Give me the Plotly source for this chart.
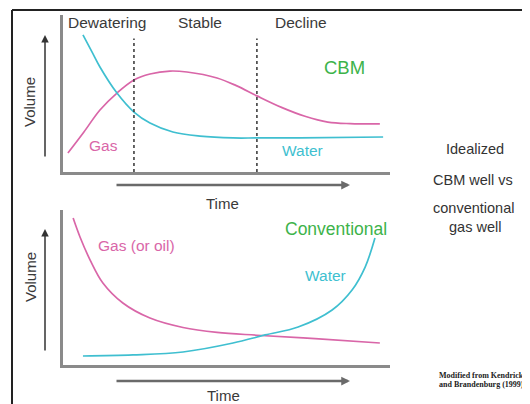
import plotly.graph_objects as go

# ---------------- data ----------------
# CBM well (top panel) - time (0-10) vs relative volume (0-10)
cbm_gas_t = [0.15, 0.64, 1.13, 1.65, 2.17, 2.66, 3.27, 3.79, 4.71, 5.30, 5.93, 6.70, 7.40, 8.10, 8.78, 9.69]
cbm_gas_v = [1.21, 2.55, 3.95, 5.03, 5.86, 6.24, 6.43, 6.37, 5.99, 5.50, 4.85, 4.10, 3.55, 3.18, 3.08, 3.06]
cbm_water_t = [0.61, 0.89, 1.13, 1.65, 2.17, 2.66, 3.36, 4.19, 5.20, 5.93, 7.25, 9.79]
cbm_water_v = [8.73, 7.64, 6.69, 5.03, 3.82, 3.12, 2.55, 2.29, 2.17, 2.17, 2.17, 2.23]
phase_bounds = [2.17, 5.93]
phase_top = 8.5
phase_names = ["Dewatering", "Stable", "Decline"]

# Conventional well (bottom panel)
conv_gas_t = [0.31, 0.52, 0.83, 1.22, 1.83, 2.66, 3.67, 4.71, 5.93, 7.71, 9.69]
conv_gas_v = [9.48, 8.26, 6.77, 5.29, 4.00, 3.03, 2.42, 2.10, 1.92, 1.70, 1.42]
conv_water_t = [0.61, 2.14, 3.67, 5.20, 6.18, 7.19, 8.23, 8.84, 9.24, 9.54]
conv_water_v = [0.58, 0.65, 0.84, 1.42, 1.94, 2.45, 3.55, 4.84, 6.32, 8.19]

# page has an 8px body margin; the figure fills the rest of the 530x404 window
OFF = 8
W, H = 530 - OFF, 404 - OFF
PINK = "#d966a8"
CYAN = "#3fbfd0"
GREEN = "#3db34a"
AXIS = "#8a8a8a"
TXT = "#3a3a3a"
FONT = "Liberation Sans, Arial, sans-serif"


def px(x):
    return (x - OFF) / W


def py(y):
    return 1 - (y - OFF) / H


fig = go.Figure()
line_kw = dict(mode="lines", line_shape="spline", hoverinfo="skip", showlegend=False)
fig.add_trace(go.Scatter(x=cbm_gas_t, y=cbm_gas_v, line=dict(color=PINK, width=1.7), xaxis="x", yaxis="y", **line_kw))
fig.add_trace(go.Scatter(x=cbm_water_t, y=cbm_water_v, line=dict(color=CYAN, width=1.7), xaxis="x", yaxis="y", **line_kw))
fig.add_trace(go.Scatter(x=conv_gas_t, y=conv_gas_v, line=dict(color=PINK, width=1.7), xaxis="x2", yaxis="y2", **line_kw))
fig.add_trace(go.Scatter(x=conv_water_t, y=conv_water_v, line=dict(color=CYAN, width=1.7), xaxis="x2", yaxis="y2", **line_kw))

ax_common = dict(showgrid=False, zeroline=False, showticklabels=False, ticks="",
                 showline=True, linecolor=AXIS, linewidth=2.5, range=[0, 10], fixedrange=True)

shapes = []
for b in phase_bounds:
    shapes.append(dict(type="line", xref="x", yref="y", x0=b, x1=b, y0=0, y1=phase_top,
                       line=dict(color="#333333", width=1.5, dash="dot")))
# outer frame
shapes.append(dict(type="line", xref="paper", yref="paper", x0=px(12), x1=px(530), y0=py(10), y1=py(10),
                   line=dict(color="#222222", width=2)))
shapes.append(dict(type="line", xref="paper", yref="paper", x0=px(12), x1=px(12), y0=py(10), y1=py(404),
                   line=dict(color="#222222", width=2)))

ann = []


def text(t, x, y, size=15.5, color=TXT, **kw):
    ann.append(dict(text=t, x=px(x), y=py(y), xref="paper", yref="paper", showarrow=False,
                    xanchor=kw.pop("xanchor", "center"), yanchor="middle",
                    font=dict(family=kw.pop("family", FONT), size=size, color=color), **kw))


text(phase_names[0], 107, 22)
text(phase_names[1], 200, 22)
text(phase_names[2], 301, 22)
text("CBM", 344, 68, size=18.5, color=GREEN)
text("Gas", 103, 145, color=PINK)
text("Water", 302, 150, color=CYAN)
text("Time", 222, 203, size=15)
text("Volume", 30, 102, size=15, textangle=-90)

text("Conventional", 336, 229, size=17.5, color=GREEN)
text("Gas (or oil)", 136, 245, color=PINK)
text("Water", 325, 275, color=CYAN)
text("Time", 223, 395, size=15)
text("Volume", 30, 277, size=15, textangle=-90)

text("Idealized", 475, 149, size=14.5, color="#333333")
text("CBM well vs", 473, 180, size=14.5, color="#333333")
text("conventional", 473, 208, size=14.5, color="#333333")
text("gas well", 475, 227, size=14.5, color="#333333")

text("<b>Modified from Kendrick</b>", 437, 375, size=8, color="#222222",
     xanchor="left", family="Liberation Serif, serif")
text("<b>and Brandenburg (1999)</b>", 437, 384, size=8, color="#222222",
     xanchor="left", family="Liberation Serif, serif")


def arrow(hx, hy, tx, ty, color, width, size):
    ann.append(dict(text="", x=px(hx), y=py(hy), xref="paper", yref="paper", showarrow=True,
                    ax=tx - hx, ay=ty - hy, axref="pixel", ayref="pixel",
                    arrowhead=2, arrowsize=size, arrowwidth=width, arrowcolor=color, standoff=0))


arrow(45, 35, 45, 158, "#333333", 1.5, 1.0)
arrow(45, 229, 45, 352, "#333333", 1.5, 1.0)
arrow(350, 185, 115, 185, "#6a6a6a", 2.5, 0.7)
arrow(350, 381, 115, 381, "#6a6a6a", 2.5, 0.7)

fig.update_layout(
    width=W, height=H, autosize=False,
    margin=dict(l=0, r=0, t=0, b=0),
    paper_bgcolor="white", plot_bgcolor="white",
    xaxis=dict(domain=[px(63), px(390)], anchor="y", **ax_common),
    yaxis=dict(domain=[py(172), py(15)], anchor="x", **ax_common),
    xaxis2=dict(domain=[px(63), px(390)], anchor="y2", **ax_common),
    yaxis2=dict(domain=[py(365), py(210)], anchor="x2", **ax_common),
    shapes=shapes,
    annotations=ann,
)

fig.write_html("out.html")
